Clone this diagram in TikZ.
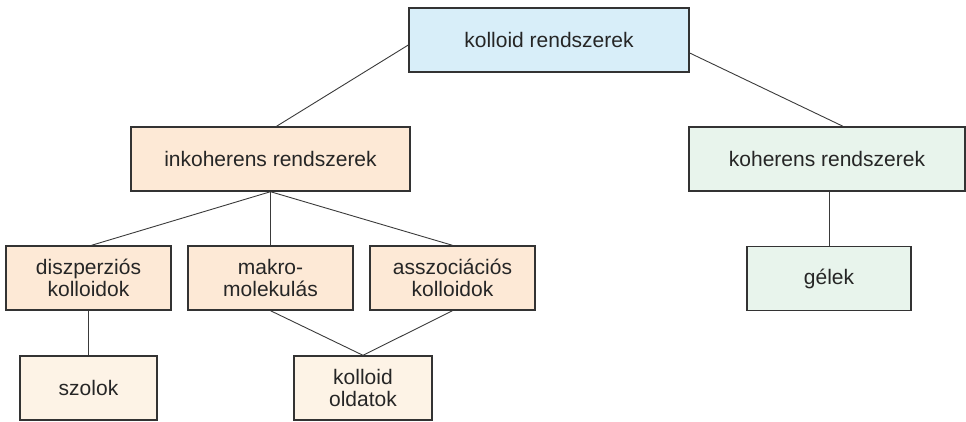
\documentclass[tikz,border=0pt]{standalone}
\usepackage{fontspec}
\setmainfont{Liberation Sans}
\usetikzlibrary{calc}
\definecolor{boxline}{HTML}{333333}
\definecolor{linkline}{HTML}{3A3A3A}
\definecolor{bluefill}{HTML}{D8EEF9}
\definecolor{peachfill}{HTML}{FDE9D6}
\definecolor{creamfill}{HTML}{FDF3E6}
\definecolor{greenfill}{HTML}{E8F4EC}
\tikzset{
  catbox/.style={draw=boxline, line width=1.4pt, inner sep=0pt, align=center,
    font=\fontsize{21}{22}\selectfont, text=black!85},
  link/.style={draw=linkline, line width=0.9pt}
}
\begin{document}
\begin{tikzpicture}[x=1pt, y=-1pt]
  \useasboundingbox (0,0) rectangle (966,421);

  % top level
  \node[catbox, fill=bluefill, minimum width=280pt, minimum height=64pt] (top) at (549,40) {kolloid rendszerek};

  % second level
  \node[catbox, fill=peachfill, minimum width=279pt, minimum height=64pt] (inko) at (270.5,159) {inkoherens rendszerek};
  \node[catbox, fill=greenfill, minimum width=276pt, minimum height=64pt] (kohe) at (827,159) {koherens rendszerek};

  % third level
  \node[catbox, fill=peachfill, minimum width=165pt, minimum height=64pt] (disz) at (88.5,278) {diszperziós\\kolloidok};
  \node[catbox, fill=peachfill, minimum width=165pt, minimum height=64pt] (makro) at (270.5,278) {makro-\\molekulás};
  \node[catbox, fill=peachfill, minimum width=165pt, minimum height=64pt] (assz) at (452.5,278) {asszociációs\\kolloidok};
  \node[catbox, fill=greenfill, minimum width=164pt, minimum height=64pt] (gelek) at (829,278.5) {gélek};

  % bottom level
  \node[catbox, fill=creamfill, minimum width=137pt, minimum height=64pt] (szol) at (88.5,388) {szolok};
  \node[catbox, fill=creamfill, minimum width=138pt, minimum height=64pt] (oldat) at (363,388) {kolloid\\oldatok};

  % connectors
  \draw[link] ($(top.west)+(0,5)$) -- ($(inko.north)+(6,0)$);
  \draw[link] ($(top.east)+(0,13)$) -- ($(kohe.north)+(16,0)$);
  \draw[link] (inko.south) -- ($(disz.north)+(3,0)$);
  \draw[link] (inko.south) -- (makro.north);
  \draw[link] (inko.south) -- (assz.north);
  \draw[link] (disz.south) -- (szol.north);
  \draw[link] (makro.south) -- (oldat.north);
  \draw[link] (assz.south) -- (oldat.north);
  \draw[link] (kohe.south -| gelek.north) -- (gelek.north);
\end{tikzpicture}
\end{document}
